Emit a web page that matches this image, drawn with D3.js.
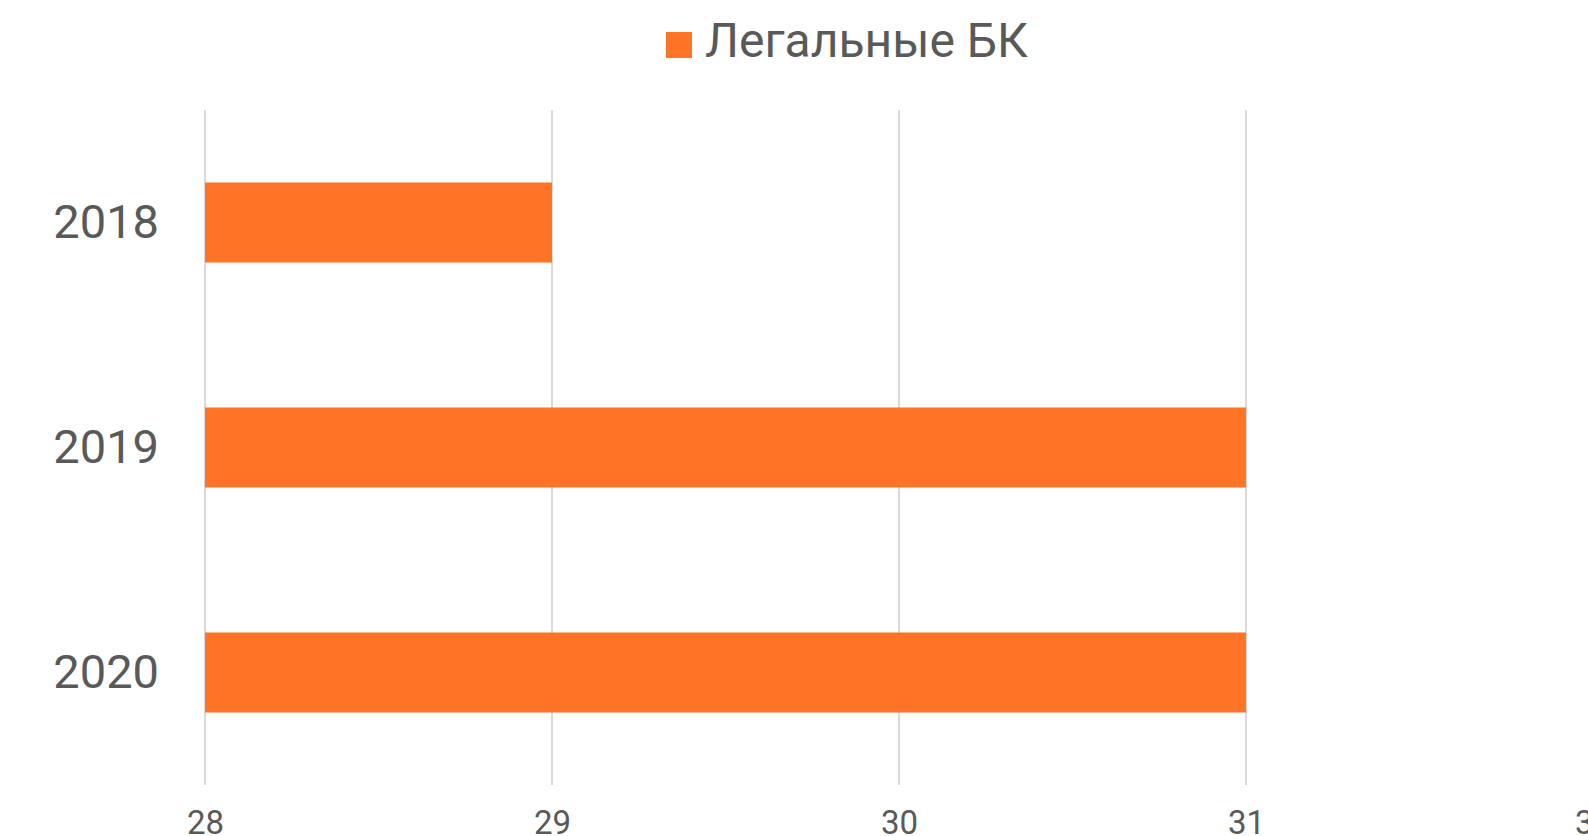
<!DOCTYPE html>
<html>
<head>
<meta charset="utf-8">
<script src="https://cdn.jsdelivr.net/npm/d3@7"></script>
<style>
  body { margin: 0; background: #fff; overflow: hidden; }
  svg { display: block; font-family: Roboto, "Open Sans", sans-serif; }
</style>
</head>
<body>
<div id="chart"></div>
<script>
const years = ["2018", "2019", "2020"];
const values = [29, 31, 31];
const xTicks = [28, 29, 30, 31, 32];
const seriesName = "Легальные БК";

const width = 1588;
const height = 836;
const margin = {top: 110, right: -5, bottom: 51, left: 205};
const barColor = "#ff7425";
const textColor = "#595959";

const svg = d3.select("#chart").append("svg")
  .attr("width", width)
  .attr("height", height);

const x = d3.scaleLinear()
  .domain([28, 32])
  .range([margin.left, width - margin.right]);

const y = d3.scaleBand()
  .domain(years)
  .range([margin.top, height - margin.bottom])
  .paddingInner(0.6444)
  .paddingOuter(0.3222);

// grid lines
svg.append("g")
  .selectAll("line")
  .data(xTicks)
  .join("line")
    .attr("x1", d => x(d))
    .attr("x2", d => x(d))
    .attr("y1", margin.top)
    .attr("y2", height - margin.bottom)
    .attr("stroke", "#d9d9d9")
    .attr("stroke-width", 2);

// bars
svg.append("g")
  .selectAll("rect")
  .data(years)
  .join("rect")
    .attr("x", x(28))
    .attr("y", d => y(d))
    .attr("width", (d, i) => x(values[i]) - x(28))
    .attr("height", y.bandwidth())
    .attr("fill", barColor);

// x axis labels
const xAxis = g => g
  .attr("transform", `translate(0,${height - margin.bottom})`)
  .call(d3.axisBottom(x).tickValues(xTicks).tickFormat(d3.format("d")).tickSize(0).tickPadding(26))
  .call(g => g.select(".domain").remove())
  .call(g => g.selectAll("text")
    .attr("fill", textColor)
    .attr("font-size", 33)
    .attr("font-family", "Roboto"));

svg.append("g").call(xAxis);

// y axis labels
const yAxis = g => g
  .attr("transform", `translate(${margin.left},0)`)
  .call(d3.axisLeft(y).tickSize(0).tickPadding(46))
  .call(g => g.select(".domain").remove())
  .call(g => g.selectAll("text")
    .attr("fill", textColor)
    .attr("font-size", 47)
    .attr("font-family", "Roboto"));

svg.append("g").call(yAxis);

// legend
const legend = svg.append("g");
legend.append("rect")
  .attr("x", 666)
  .attr("y", 32)
  .attr("width", 26)
  .attr("height", 26)
  .attr("fill", barColor);
legend.append("text")
  .attr("x", 705)
  .attr("y", 57)
  .attr("fill", textColor)
  .attr("font-size", 48)
  .attr("font-family", "Roboto")
  .text(seriesName);
</script>
</body>
</html>
